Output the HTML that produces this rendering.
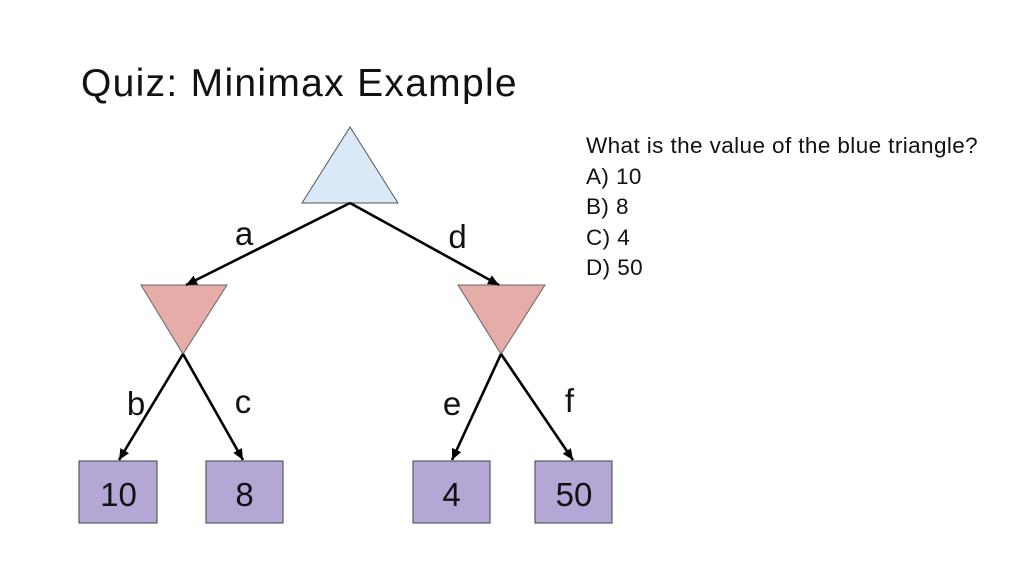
<!DOCTYPE html>
<html>
<head>
<meta charset="utf-8">
<style>
  html,body{margin:0;padding:0;background:#fff;}
  body{width:1024px;height:576px;position:relative;overflow:hidden;font-family:"Liberation Sans",Arial,sans-serif;}
  .title{position:absolute;left:81px;top:64px;font-size:39px;line-height:39px;letter-spacing:1.3px;color:#111;white-space:nowrap;font-weight:normal;}
  .q{position:absolute;left:586px;top:131px;font-size:22.5px;line-height:30.5px;letter-spacing:0.4px;color:#111;white-space:nowrap;}
  svg{position:absolute;left:0;top:0;}
</style>
</head>
<body>
<div class="title">Quiz: Minimax Example</div>
<div class="q">What is the value of the blue triangle?<br>A) 10<br>B) 8<br>C) 4<br>D) 50</div>
<svg width="1024" height="576" viewBox="0 0 1024 576">
  <defs>
    <marker id="ah" markerUnits="userSpaceOnUse" markerWidth="12" markerHeight="12" viewBox="0 0 12 12" refX="11" refY="6" orient="auto">
      <path d="M0,1 L11,6 L0,11 Z" fill="#000"/>
    </marker>
  </defs>
  <!-- root -->
  <polygon points="350,127 302,203 398,203" fill="#d9e9f7" stroke="#555" stroke-width="1"/>
  <!-- min nodes -->
  <polygon points="141,285 227,285 183,354" fill="#e6aca8" stroke="#666" stroke-width="1"/>
  <polygon points="458,285 545,285 501,354" fill="#e6aca8" stroke="#666" stroke-width="1"/>
  <!-- edges -->
  <g stroke="#000" stroke-width="2.6" fill="none" marker-end="url(#ah)">
    <line x1="350" y1="203" x2="186" y2="285"/>
    <line x1="350" y1="203" x2="499" y2="285"/>
    <line x1="183" y1="354" x2="119" y2="460"/>
    <line x1="183" y1="354" x2="243" y2="460"/>
    <line x1="501" y1="354" x2="452" y2="460"/>
    <line x1="501" y1="354" x2="573" y2="460"/>
  </g>
  <!-- leaves -->
  <g fill="#b4a7d6" stroke="#5a5a5a" stroke-width="1.2">
    <rect x="79" y="461" width="78" height="62"/>
    <rect x="206" y="461" width="77" height="62"/>
    <rect x="413" y="461" width="77" height="62"/>
    <rect x="535" y="461" width="77" height="62"/>
  </g>
  <g font-family="Liberation Sans, Arial, sans-serif" font-size="33" fill="#111" text-anchor="middle">
    <text x="244" y="245">a</text>
    <text x="457.5" y="248">d</text>
    <text x="136" y="415">b</text>
    <text x="243" y="413">c</text>
    <text x="452" y="415">e</text>
    <text x="569.5" y="412">f</text>
    <text x="118.5" y="506">10</text>
    <text x="244.5" y="506">8</text>
    <text x="451.5" y="506">4</text>
    <text x="574" y="506">50</text>
  </g>
</svg>
</body>
</html>
